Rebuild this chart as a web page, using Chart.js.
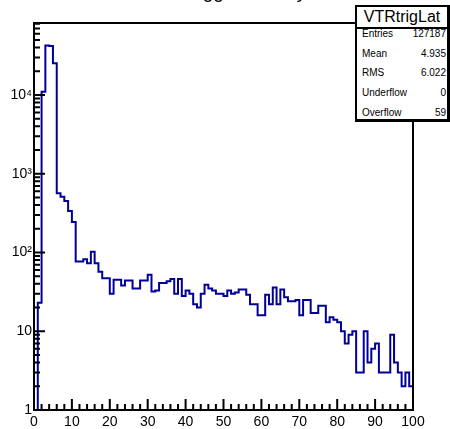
<!DOCTYPE html>
<html><head><meta charset="utf-8">
<script src="https://cdn.jsdelivr.net/npm/chart.js@4/dist/chart.umd.min.js"></script>
<style>
html,body{margin:0;padding:0;background:#fff;}
#wrap{position:relative;width:450px;height:429px;overflow:hidden;background:#fff;font-family:"Liberation Sans",Arial,sans-serif;}
#c{position:absolute;left:0;top:0;}
#title{position:absolute;left:0;top:-18px;width:450px;text-align:center;font-size:19px;line-height:20px;color:#000;white-space:nowrap;}
#statbox{position:absolute;left:355px;top:5px;width:90px;height:112px;background:#fff;border-style:solid;border-color:#000;border-width:2px 3px 3px 2px;}
#stathdr{position:absolute;left:357px;top:7px;width:90px;height:20px;border-bottom:2px solid #000;text-align:center;font-size:16px;line-height:20px;}
.row{position:absolute;left:362px;width:84px;height:12px;line-height:12px;font-size:10px;display:flex;justify-content:space-between;}
</style></head>
<body>
<div id="wrap">
<canvas id="c" width="450" height="429"></canvas>
<div id="title">VTR trigger latency</div>
<div id="statbox"></div>
<div id="stathdr">VTRtrigLat</div>
<div class="row" style="top:28px"><span>Entries</span><span>127187</span></div>
<div class="row" style="top:48px"><span>Mean</span><span>4.935</span></div>
<div class="row" style="top:67px"><span>RMS</span><span>6.022</span></div>
<div class="row" style="top:87px"><span>Underflow</span><span>0</span></div>
<div class="row" style="top:107px"><span>Overflow</span><span>59</span></div>
</div>
<script>
// bin low edges 0..99, width 1
const binLowEdges = Array.from({length:100},(_,i)=>i);
const counts = [
  0, 23, 11000, 42500, 42000, 25300, 565, 511, 451, 337,
  244, 77, 77, 82, 73, 102, 73, 57, 47, 47,
  30, 45, 45, 38, 44, 44, 35, 35, 44, 44,
  52, 32, 33, 41, 41, 43, 46, 30, 46, 28,
  33, 30, 22, 20, 30, 39, 35, 33, 30, 30,
  28, 33, 30, 31, 34, 34, 29, 22, 22, 16,
  16, 29, 22, 36, 22, 34, 27, 24, 24, 25,
  16, 25, 25, 17, 17, 21, 21, 13, 15, 14,
  13, 10, 7, 9, 10, 3, 3, 10, 4, 6,
  7, 3, 3, 3, 9, 4, 3, 2, 3, 2
];
const xMin = 0, xMax = 100;
const yMin = 1, yMax = 82000;
const xTickValues = [0,10,20,30,40,50,60,70,80,90,100];
const xTickLabels = ['0','10','20','30','40','50','60','70','80','90','100'];
const yTickValues = [1,10,100,1000,10000];
const yTickLabels = ['1','10','10\u00B2','10\u00B3','10\u2074'];

const EMPTY_FLOOR = 0.1; // empty bins drawn below the axis minimum (clipped)
const pts = binLowEdges.map((x,i)=>({x:x, y: counts[i]>0 ? counts[i] : EMPTY_FLOOR}));
pts.push({x: xMax, y: counts[counts.length-1] > 0 ? counts[counts.length-1] : EMPTY_FLOOR});

const rootAxes = {
  id:'rootAxes',
  afterDraw(chart){
    const {ctx, chartArea:a, scales:{x,y}} = chart;
    ctx.save();
    ctx.strokeStyle='#000'; ctx.lineWidth=2; ctx.lineCap='butt';
    ctx.beginPath();
    ctx.rect(a.left, a.top, a.right-a.left, a.bottom-a.top);
    for (let v=xMin; v<=xMax; v+=2){
      const px = x.getPixelForValue(v);
      const len = (v%10===0) ? 11 : 6;
      ctx.moveTo(px, a.bottom); ctx.lineTo(px, a.bottom-len);
    }
    for (let d=0; d<6; d++){
      for (let m=1; m<10; m++){
        const v = m*Math.pow(10,d);
        if (v < yMin || v > yMax) continue;
        const py = y.getPixelForValue(v);
        const len = (m===1) ? 11 : 6;
        ctx.moveTo(a.left, py); ctx.lineTo(a.left+len, py);
      }
    }
    ctx.stroke();
    ctx.restore();
  }
};

new Chart(document.getElementById('c'), {
  type:'line',
  data:{datasets:[{
    data: pts,
    stepped: true,
    borderColor:'#000099',
    borderWidth:2,
    pointRadius:0,
    fill:false,
    tension:0
  }]},
  options:{
    responsive:false,
    animation:false,
    devicePixelRatio:1,
    layout:{padding:{top:23,right:37,left:0,bottom:0}},
    plugins:{legend:{display:false},tooltip:{enabled:false},title:{display:false}},
    scales:{
      x:{
        type:'linear', min:xMin, max:xMax,
        afterFit(s){ s.height = 19; },
        afterBuildTicks(s){ s.ticks = xTickValues.map(v=>({value:v})); },
        ticks:{ color:'#000', font:{family:'"Liberation Sans", Arial', size:14}, padding:4, maxRotation:0, autoSkip:false,
          callback:(v,i)=>xTickLabels[i] },
        grid:{display:false, drawTicks:false},
        border:{display:false}
      },
      y:{
        type:'logarithmic', min:yMin, max:yMax,
        afterFit(s){ s.width = 34; },
        afterBuildTicks(s){ s.ticks = yTickValues.map(v=>({value:v})); },
        ticks:{ color:'#000', font:{family:'"Liberation Sans", Arial', size:14}, padding:2, autoSkip:false,
          callback:(v,i)=>yTickLabels[i] },
        grid:{display:false, drawTicks:false},
        border:{display:false}
      }
    }
  },
  plugins:[rootAxes]
});
</script>
</body></html>
